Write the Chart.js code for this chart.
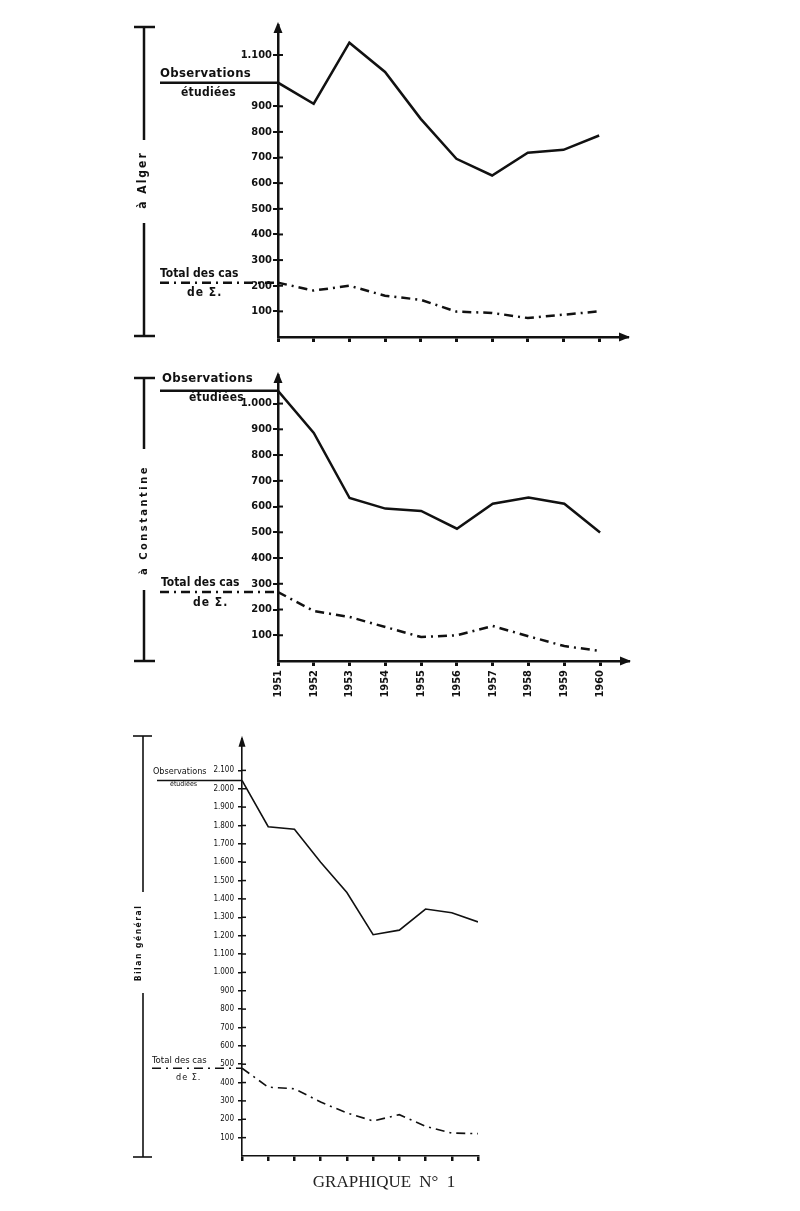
<!DOCTYPE html>
<html><head><meta charset="utf-8">
<script src="https://cdn.jsdelivr.net/npm/chart.js@4"></script>
<style>
body{margin:0;background:#fff;}
#page{position:relative;width:800px;height:1211px;background:#fff;overflow:hidden;}
canvas{position:absolute;left:0;}
.t{position:absolute;font-family:'DejaVu Sans Condensed','DejaVu Sans',sans-serif;color:#111;white-space:nowrap;line-height:1;transform:translateY(-50%);}
.b{font-weight:bold;}
.r{transform:translate(-50%,-50%) rotate(-90deg);}
.title{position:absolute;font-family:'Liberation Serif','DejaVu Serif',serif;font-size:17px;color:#222;white-space:nowrap;line-height:1;transform:translate(-50%,-50%);word-spacing:4px;}
</style></head><body><div id="page">
<canvas id="c1" width="800" height="350" style="top:0;width:800px;height:350px"></canvas>
<canvas id="c2" width="800" height="350" style="top:360px;width:800px;height:350px"></canvas>
<canvas id="c3" width="800" height="481" style="top:730px;width:800px;height:481px"></canvas>

<div class="t b" style="left:160px;top:72px;font-size:13px;letter-spacing:0.3px">Observations</div>
<div class="t b" style="left:181px;top:92px;font-size:12px;letter-spacing:0.3px">étudiées</div>
<div class="t b" style="left:160px;top:273px;font-size:12px;">Total des cas</div>
<div class="t b" style="left:187px;top:292px;font-size:12px;letter-spacing:1px">de Σ.</div>
<div class="t b r" style="left:142px;top:180px;font-size:12px;letter-spacing:2px">à Alger</div>

<div class="t b" style="left:162px;top:377px;font-size:13px;letter-spacing:0.3px">Observations</div>
<div class="t b" style="left:189px;top:397px;font-size:12px;letter-spacing:0.3px">étudiées</div>
<div class="t b" style="left:161px;top:582px;font-size:12px;">Total des cas</div>
<div class="t b" style="left:193px;top:602px;font-size:12px;letter-spacing:1px">de Σ.</div>
<div class="t b r" style="left:143px;top:520px;font-size:11px;letter-spacing:2.5px">à Constantine</div>

<div class="t" style="left:153px;top:771px;font-size:9px;">Observations</div>
<div class="t" style="left:170px;top:784px;font-size:7px;">étudiées</div>
<div class="t" style="left:152px;top:1060px;font-size:9.5px;">Total des cas</div>
<div class="t" style="left:176px;top:1077px;font-size:9px;letter-spacing:1px">de Σ.</div>
<div class="t b r" style="left:138px;top:943px;font-size:8.5px;letter-spacing:1.5px">Bilan général</div>

<div class="title" style="left:384px;top:1181px">GRAPHIQUE N° 1</div>
</div>
<script>
const years = [1951,1952,1953,1954,1955,1956,1957,1958,1959,1960];
const algerObs = [992, 910, 1148, 1034, 851, 695, 630, 719, 730, 786];
const algerCas = [212, 181, 200, 161, 145, 99, 94, 74, 87, 100];
const constObs = [1050, 886, 633, 592, 583, 514, 611, 635, 611, 499];
const constCas = [268, 194, 171, 132, 93, 100, 136, 96, 58, 39];
const totalObs = [2045, 1793, 1779, 1600, 1435, 1205, 1230, 1345, 1325, 1275];
const totalCas = [478, 375, 366, 294, 234, 191, 225, 162, 125, 122];
const algerTicks = [100,200,300,400,500,600,700,800,900,1100];
const constTicks = [100,200,300,400,500,600,700,800,900,1000];
const totalTicks = [100,200,300,400,500,600,700,800,900,1000,1100,1200,1300,1400,1500,1600,1700,1800,1900,2000,2100];

const INK = '#111';
const DASHDOT = [9,5,2,5];
function fmt(v){ return v >= 1000 ? Math.floor(v/1000) + '.' + String(v%1000).padStart(3,'0') : String(v); }
function pts(arr){ return arr.map((v,i)=>({x:years[i], y:v})); }

const deco = {
  id:'deco',
  afterDraw(chart, args, o){
    const ctx = chart.ctx, a = chart.chartArea, ys = chart.scales.y;
    ctx.save();
    ctx.strokeStyle = INK; ctx.fillStyle = INK; ctx.lineCap = 'butt';
    // inner half of y tick marks
    ctx.lineWidth = o.tickW;
    ys.ticks.forEach(t=>{ const py = ys.getPixelForValue(t.value); ctx.beginPath(); ctx.moveTo(a.left, py); ctx.lineTo(a.left + o.tickIn, py); ctx.stroke(); });
    // y arrow
    ctx.beginPath(); ctx.moveTo(a.left, a.top - 3); ctx.lineTo(a.left - o.ah, a.top + 8); ctx.lineTo(a.left + o.ah, a.top + 8); ctx.closePath(); ctx.fill();
    if (o.xArrow){
      ctx.beginPath(); ctx.moveTo(a.right + 3, a.bottom); ctx.lineTo(a.right - 8, a.bottom - o.ah); ctx.lineTo(a.right - 8, a.bottom + o.ah); ctx.closePath(); ctx.fill();
    }
    // bracket
    const b = o.bracket;
    ctx.lineWidth = b.w;
    b.segs.forEach(s=>{ ctx.beginPath(); ctx.moveTo(b.x, s[0]); ctx.lineTo(b.x, s[1]); ctx.stroke(); });
    b.caps.forEach(cy=>{ ctx.beginPath(); ctx.moveTo(b.x0, cy); ctx.lineTo(b.x1, cy); ctx.stroke(); });
    // legend lines
    const d0 = chart.data.datasets[0].data[0].y, d1 = chart.data.datasets[1].data[0].y;
    ctx.lineWidth = o.lw;
    ctx.beginPath(); ctx.moveTo(o.legX0, ys.getPixelForValue(d0)); ctx.lineTo(a.left, ys.getPixelForValue(d0)); ctx.stroke();
    ctx.setLineDash(DASHDOT);
    ctx.beginPath(); ctx.moveTo(o.legX1, ys.getPixelForValue(d1)); ctx.lineTo(a.left, ys.getPixelForValue(d1)); ctx.stroke();
    ctx.restore();
  }
};

function make(id, obs, cas, yt, c){
  return new Chart(document.getElementById(id), {
    type:'line',
    data:{ datasets:[
      {data:pts(obs), borderColor:INK, borderWidth:c.lw, pointRadius:0, tension:0, fill:false},
      {data:pts(cas), borderColor:INK, borderWidth:c.lw, borderDash:DASHDOT, pointRadius:0, tension:0, fill:false}
    ]},
    options:{
      responsive:false, animation:false, devicePixelRatio:1,
      layout:{padding:c.pad},
      plugins:{legend:{display:false}, tooltip:{enabled:false}, deco:c.deco},
      scales:{
        x:{ type:'linear', min:1951, max:c.xmax,
            afterBuildTicks:s=>{ s.ticks = years.map(v=>({value:v})); },
            afterFit:s=>{ s.height = c.xh; },
            grid:{drawOnChartArea:false, color:INK, lineWidth:c.xtw, tickLength:5},
            border:{color:INK, width:c.lw},
            ticks:{display:c.xlabels, autoSkip:false, maxRotation:90, minRotation:90, padding:4, color:INK,
                   font:{family:"'DejaVu Sans Condensed', 'DejaVu Sans'", size:11, weight:'bold'},
                   callback:v=>String(v)} },
        y:{ type:'linear', min:0, max:c.ymax,
            afterBuildTicks:s=>{ s.ticks = yt.map(v=>({value:v})); },
            afterFit:s=>{ s.width = c.yw; },
            grid:{drawOnChartArea:false, color:INK, lineWidth:c.ytw, tickLength:c.deco.tickIn},
            border:{color:INK, width:c.lw},
            ticks:{padding:c.ypad, color:INK, font:c.yfont, callback:v=>fmt(v)} }
      }
    },
    plugins:[deco]
  });
}

make('c1', algerObs, algerCas, algerTicks, {
  lw:2.5, xtw:3, ytw:2, xh:13, yw:60, ypad:1, xmax:1960.78, ymax:1217, xlabels:false,
  pad:{left:218, right:173, top:25, bottom:0},
  yfont:{family:"'DejaVu Sans Condensed', 'DejaVu Sans'", size:11, weight:'bold'},
  deco:{tickW:2, tickIn:5, ah:4.5, xArrow:true, lw:2.5, legX0:160, legX1:160,
        bracket:{x:144, x0:134, x1:155, w:2.5, caps:[27,336], segs:[[27,140],[223,336]]}}
});
make('c2', constObs, constCas, constTicks, {
  lw:2.5, xtw:3, ytw:2, xh:49, yw:60, ypad:1, xmax:1960.78, ymax:1111, xlabels:true,
  pad:{left:218, right:172, top:15, bottom:0},
  yfont:{family:"'DejaVu Sans Condensed', 'DejaVu Sans'", size:11, weight:'bold'},
  deco:{tickW:2, tickIn:5, ah:4.5, xArrow:true, lw:2.5, legX0:160, legX1:160,
        bracket:{x:144, x0:134, x1:155, w:2.5, caps:[18,301], segs:[[18,89],[230,301]]}}
});
make('c3', totalObs, totalCas, totalTicks, {
  lw:1.6, xtw:2.5, ytw:1.5, xh:55, yw:50, ypad:4, xmax:1960, ymax:2272, xlabels:false,
  pad:{left:192, right:322, top:8, bottom:0},
  yfont:{family:"'DejaVu Sans Condensed', 'DejaVu Sans'", size:8, weight:'normal'},
  deco:{tickW:1.5, tickIn:4, ah:3.5, xArrow:false, lw:1.6, legX0:157, legX1:152,
        bracket:{x:143, x0:133, x1:152, w:1.6, caps:[6,427], segs:[[6,162],[263,427]]}}
});
</script>
</body></html>
